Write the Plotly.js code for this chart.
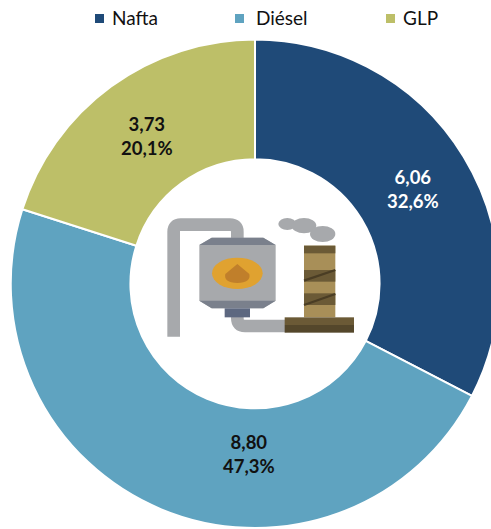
<!DOCTYPE html>
<html><head><meta charset="utf-8">
<script src="https://cdn.plot.ly/plotly-3.0.1.min.js"></script>
<style>html,body{margin:0;padding:0;background:#fff;overflow:hidden;width:491px;height:529px}</style>
</head><body><div id="chart"></div>
<script>
const categories = ["Nafta", "Diésel", "GLP"];
const values = [6.06, 8.80, 3.73];
const shares = ["32,6%", "47,3%", "20,1%"];
const colors = ["#1f4a78", "#5fa3c0", "#bdbf68"];
const labelColors = ["#ffffff", "#111111", "#111111"];
const labelPos = [[413, 189], [249, 454], [147, 136]];
const legendPos = [[99, 110], [239, 254], [390, 401]];

const W = 510, H = 529;
const fx = x => x / W, fy = y => 1 - y / H;

const icon = `<svg xmlns="http://www.w3.org/2000/svg" width="660" height="480" viewBox="0 0 660 480">
<g fill="none" stroke="#a7a9ac" stroke-width="38">
<path d="M71 440V125Q71 104 92 104H240Q262 104 262 125V150"/>
<path d="M262 375V385Q262 408 285 408H410"/></g>
<path d="M148 165L185 143H340L377 165V332L340 355H185L148 332Z" fill="#a7a9ac"/>
<path d="M148 165L185 143H340L377 165Z" fill="#7a808c"/>
<path d="M148 332H377L340 355H185Z" fill="#7a808c"/>
<ellipse cx="262" cy="250" rx="76" ry="47" fill="#e0a230"/>
<path d="M262 222L226 252Q220 278 262 279Q304 278 298 252Z" fill="#c07f2b"/>
<rect x="224" y="355" width="76" height="27" fill="#5d6880"/>
<rect x="462" y="167" width="94" height="215" fill="#a88f58"/>
<rect x="462" y="167" width="94" height="23" fill="#6b5a36"/>
<rect x="462" y="240" width="94" height="35" fill="#6b5a36"/>
<rect x="462" y="310" width="94" height="35" fill="#6b5a36"/>
<path d="M462 272L556 240M462 345L556 312" stroke="#4a3d24" stroke-width="7"/>
<rect x="404" y="382" width="208" height="23" fill="#6b5a36"/>
<rect x="404" y="405" width="208" height="23" fill="#54472b"/>
<ellipse cx="412" cy="102" rx="27" ry="18" fill="#a7a9ac"/>
<ellipse cx="462" cy="107" rx="37" ry="23" fill="#a7a9ac"/>
<ellipse cx="518" cy="132" rx="38" ry="24" fill="#a7a9ac"/>
</svg>`;

const annotations = [], shapes = [];
categories.forEach((c, i) => {
  annotations.push({
    xref: "paper", yref: "paper", x: fx(labelPos[i][0]), y: fy(labelPos[i][1]),
    text: `<b>${values[i].toFixed(2).replace(".", ",")}<br>${shares[i]}</b>`,
    showarrow: false, align: "center", xanchor: "center", yanchor: "middle",
    font: {family: "Lato, sans-serif", size: 18.5, color: labelColors[i]}
  });
  annotations.push({
    xref: "paper", yref: "paper", x: fx(legendPos[i][1]), y: fy(18),
    text: c, showarrow: false, xanchor: "left", yanchor: "middle",
    font: {family: "Lato, sans-serif", size: 19, color: "#111111"}
  });
  shapes.push({
    type: "rect", xref: "paper", yref: "paper", line: {width: 0}, fillcolor: colors[i],
    x0: fx(legendPos[i][0] - 4), x1: fx(legendPos[i][0] + 5), y0: fy(14), y1: fy(23)
  });
});

Plotly.newPlot("chart", [{
  type: "pie",
  labels: categories,
  values: values,
  hole: 0.51,
  sort: false,
  direction: "clockwise",
  rotation: 0,
  textinfo: "none",
  marker: {colors: colors, line: {color: "#ffffff", width: 2}},
  domain: {x: [0, 1], y: [fy(528), fy(39.5)]}
}], {
  width: W, height: H,
  margin: {l: 0, r: 0, t: 0, b: 0},
  showlegend: false,
  paper_bgcolor: "#ffffff",
  annotations, shapes,
  images: [{
    source: "data:image/svg+xml;charset=utf-8," + encodeURIComponent(icon),
    xref: "paper", yref: "paper", x: fx(150), y: fy(190),
    sizex: 220 / W, sizey: 160 / H, xanchor: "left", yanchor: "top",
    sizing: "stretch", layer: "above"
  }]
}, {staticPlot: true});
</script></body></html>
